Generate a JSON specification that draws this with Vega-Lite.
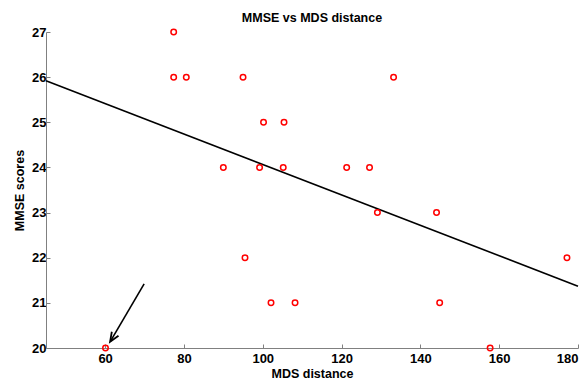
{
  "$schema": "https://vega.github.io/schema/vega-lite/v6.json",
  "width": 532,
  "height": 316,
  "autosize": "none",
  "padding": {"left": 46, "top": 32, "right": 9, "bottom": 32},
  "background": "white",
  "title": {
    "text": "MMSE vs MDS distance",
    "font": "Liberation Sans",
    "fontSize": 12.5,
    "fontWeight": "bold",
    "color": "black",
    "anchor": "middle",
    "baseline": "alphabetic",
    "offset": -8
  },
  "config": {
    "view": {"stroke": null},
    "axis": {
      "labelFont": "Liberation Sans",
      "labelFontSize": 13,
      "labelFontWeight": "bold",
      "labelColor": "black",
      "titleFont": "Liberation Sans",
      "titleFontSize": 12.5,
      "titleFontWeight": "bold",
      "titleColor": "black",
      "domainColor": "#808080",
      "tickColor": "#808080",
      "tickSize": -4,
      "grid": false
    }
  },
  "datasets": {
    "pts": [
      {"mds": 77.4, "mmse": 27},
      {"mds": 77.4, "mmse": 26},
      {"mds": 80.6, "mmse": 26},
      {"mds": 95.0, "mmse": 26},
      {"mds": 133.2, "mmse": 26},
      {"mds": 100.2, "mmse": 25},
      {"mds": 105.4, "mmse": 25},
      {"mds": 90.0, "mmse": 24},
      {"mds": 99.2, "mmse": 24},
      {"mds": 105.2, "mmse": 24},
      {"mds": 121.3, "mmse": 24},
      {"mds": 127.1, "mmse": 24},
      {"mds": 129.1, "mmse": 23},
      {"mds": 144.1, "mmse": 23},
      {"mds": 95.5, "mmse": 22},
      {"mds": 177.2, "mmse": 22},
      {"mds": 102.1, "mmse": 21},
      {"mds": 108.2, "mmse": 21},
      {"mds": 144.9, "mmse": 21},
      {"mds": 60.1, "mmse": 20},
      {"mds": 157.7, "mmse": 20}
    ],
    "fit": [
      {"mds": 45, "mmse": 25.92},
      {"mds": 180, "mmse": 21.37}
    ],
    "shaft": [
      {"x1": 69.9, "y1": 21.42, "x2": 61.3, "y2": 20.14}
    ],
    "head": [
      {"mds": 61.7, "mmse": 20.36, "o": 1},
      {"mds": 61.27, "mmse": 20.14, "o": 2},
      {"mds": 63.4, "mmse": 20.27, "o": 3}
    ]
  },
  "layer": [
    {
      "data": {"name": "fit"},
      "mark": {"type": "line", "color": "black", "strokeWidth": 1.6},
      "encoding": {
        "x": {
          "field": "mds", "type": "quantitative",
          "scale": {"domain": [45, 180], "nice": false, "zero": false},
          "axis": {"values": [60, 80, 100, 120, 140, 160, 180], "title": "MDS distance", "labelPadding": 8, "titlePadding": 2}
        },
        "y": {
          "field": "mmse", "type": "quantitative",
          "scale": {"domain": [20, 27], "nice": false, "zero": false},
          "axis": {"values": [20, 21, 22, 23, 24, 25, 26, 27], "title": "MMSE scores", "labelPadding": 4, "titlePadding": 5}
        }
      }
    },
    {
      "data": {"name": "shaft"},
      "mark": {"type": "rule", "color": "black", "strokeWidth": 1.6},
      "encoding": {
        "x": {"field": "x1", "type": "quantitative"},
        "y": {"field": "y1", "type": "quantitative"},
        "x2": {"field": "x2"},
        "y2": {"field": "y2"}
      }
    },
    {
      "data": {"name": "head"},
      "mark": {"type": "line", "color": "black", "strokeWidth": 1.8, "strokeJoin": "miter"},
      "encoding": {
        "x": {"field": "mds", "type": "quantitative"},
        "y": {"field": "mmse", "type": "quantitative"},
        "order": {"field": "o"}
      }
    },
    {
      "data": {"name": "pts"},
      "mark": {"type": "point", "shape": "circle", "filled": false, "color": "#ff0000", "size": 30, "strokeWidth": 1.5, "opacity": 1},
      "encoding": {
        "x": {"field": "mds", "type": "quantitative"},
        "y": {"field": "mmse", "type": "quantitative"}
      }
    }
  ]
}
